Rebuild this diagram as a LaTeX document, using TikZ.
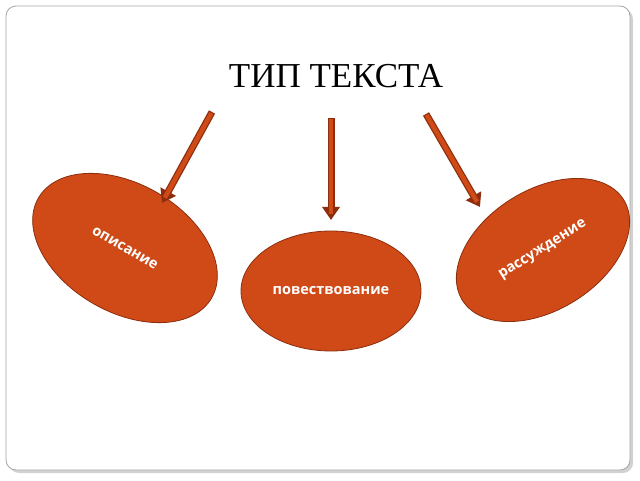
\documentclass[tikz,border=0pt]{standalone}
\usepackage{fontspec}
\setmainfont{Liberation Serif}
\newfontfamily\lbl{Open Sans}
\usetikzlibrary{arrows.meta,shadows,shapes.geometric,calc}
\definecolor{fillc}{HTML}{D04A17}
\definecolor{edgec}{HTML}{8C2E0E}
\tikzset{
  blob/.style={ellipse, fill=fillc, draw=edgec, line width=0.8pt, inner sep=0pt, font=\lbl\bfseries\fontsize{14.5}{16}\selectfont, text=white},
  arrowout/.style={line width=7pt, edgec, -{Triangle[length=13pt,width=17pt]}},
  arrowin/.style={line width=4.5pt, fillc, shorten >=6pt}
}
\begin{document}
\begin{tikzpicture}[x=1pt,y=1pt]
\useasboundingbox (0,0) rectangle (640,480);
\fill[white] (0,0) rectangle (640,480);
\draw[rounded corners=10pt, draw=gray!70, fill=white, line width=0.8pt,
  drop shadow={shadow xshift=3pt,shadow yshift=-3pt,opacity=0.35}]
  (6,10) rectangle (630,474);
\node (title) at (336,404) {\fontsize{35}{40}\selectfont ТИП ТЕКСТА};
\node[blob, minimum width=200pt, minimum height=128pt, rotate=-30] (l) at (125,232) {описание};
\node[blob, minimum width=180pt, minimum height=120pt] (c) at (331,189) {повествование};
\node[blob, minimum width=190pt, minimum height=120pt, rotate=32] (r) at (543,230) {рассуждение};
\coordinate (a1) at (212,368); \coordinate (b1) at (162,277);
\coordinate (a2) at (331,362); \coordinate (b2) at (331,260);
\coordinate (a3) at (426,366); \coordinate (b3) at (480,273);
\foreach \a/\b in {a1/b1,a2/b2,a3/b3}{
  \draw[arrowout] (\a) -- (\b);
  \draw[arrowin] ($(\a)!1.2pt!(\b)$) -- (\b);
}
\end{tikzpicture}
\end{document}
